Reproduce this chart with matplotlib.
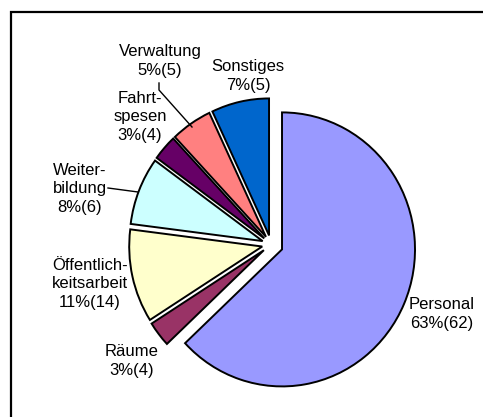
# Import libraries
import matplotlib.pyplot as plt

# Chart data (clockwise from the top)
categories = ["Personal", "Räume", "Öffentlich-\nkeitsarbeit", "Weiter-\nbildung",
              "Fahrt-\nspesen", "Verwaltung", "Sonstiges"]
percents = [63, 3, 11, 8, 3, 5, 7]
counts = [62, 4, 14, 6, 4, 5, 5]
colors = ["#9999FF", "#993366", "#FFFFCC", "#CCFFFF", "#660066", "#FF8080", "#0066CC"]

# Layout (pixel coords, y measured from the top)
label_pos = [(442, 314), (132, 361), (90, 284), (80, 189), (140, 117), (160, 61), (248, 76)]
W, H = 483, 417
sy = 137 / 133  # the pie is slightly taller than wide


def Y(py):
    # pixel row (from top) -> data y
    return (H - py) / sy


fig = plt.figure(figsize=(W / 100, H / 100), dpi=100)
ax = fig.add_axes([0, 0, 1, 1])

# explode is in axis units here (pixels), not a fraction of the radius
explode = [12] + [9] * (len(percents) - 1)
ax.pie(percents, colors=colors, startangle=90, counterclock=False,
       explode=explode, radius=133, center=(271, Y(244.5)),
       wedgeprops=dict(edgecolor="black", linewidth=1.4))
ax.set_xlim(0, W)
ax.set_ylim(0, H / sy)
ax.set_aspect("auto")
ax.axis("off")

# Labels
for cat, p, c, (x, y) in zip(categories, percents, counts, label_pos):
    ax.text(x, Y(y), f"{cat}\n{p}%({c})", ha="center", va="center",
            fontsize=12, family="Liberation Sans", linespacing=1.3)

# Leader lines
ax.plot([159, 159, 192], [Y(83), Y(90), Y(127)], color="black", lw=1)
ax.plot([108, 138], [Y(188), Y(192)], color="black", lw=1)

# Partial chart frame (left and top edge)
ax.plot([11, 11, W], [0, Y(12), Y(12)], color="black", lw=1.6,
        solid_joinstyle="miter")

plt.savefig("out.png", dpi=100)
